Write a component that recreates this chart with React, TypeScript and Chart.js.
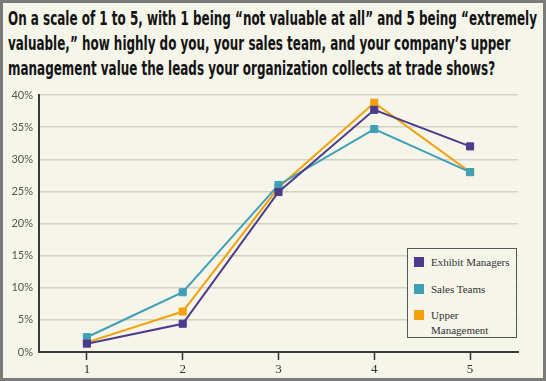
import React, { useEffect, useLayoutEffect, useRef } from "react";
import { Chart, registerables } from "chart.js";

Chart.register(...registerables);

const titleLines = [
  "On a scale of 1 to 5, with 1 being “not valuable at all” and 5 being “extremely",
  "valuable,” how highly do you, your sales team, and your company’s upper",
  "management value the leads your organization collects at trade shows?",
];
const categories = ["1", "2", "3", "4", "5"];
const exhibitManagers = [1.3, 4.4, 24.9, 37.7, 32.0];
const salesTeams = [2.3, 9.3, 26.0, 34.7, 28.0];
const upperManagement = [1.5, 6.3, 25.6, 38.8, 28.0];
const seriesNames = ["Exhibit Managers", "Sales Teams", "Upper Management"];
const seriesColors = ["#4a3b8c", "#3f9fb6", "#f4a10c"];
const yTicks = [0, 5, 10, 15, 20, 25, 30, 35, 40];

export default function App() {
  const canvasRef = useRef<HTMLCanvasElement | null>(null);
  const titleRef = useRef<HTMLDivElement | null>(null);

  useLayoutEffect(() => {
    const el = titleRef.current;
    if (!el) return;
    const first = el.children[0] as HTMLElement;
    const w = first.getBoundingClientRect().width;
    if (w > 0) el.style.transform = `scaleX(${529 / w})`;
  }, []);

  useEffect(() => {
    const canvas = canvasRef.current;
    if (!canvas) return;
    const values = [exhibitManagers, salesTeams, upperManagement];
    const chart = new Chart(canvas, {
      type: "line",
      data: {
        labels: categories,
        datasets: values.map((v, i) => ({
          label: seriesNames[i],
          data: v,
          borderColor: seriesColors[i],
          backgroundColor: seriesColors[i],
          borderWidth: 2,
          pointStyle: "rect",
          pointRadius: 5,
          pointBorderWidth: 1,
          pointBorderColor: seriesColors[i],
          tension: 0,
        })),
      },
      options: {
        responsive: false,
        animation: false,
        devicePixelRatio: 1,
        layout: { padding: { left: 0, right: 28, top: 95, bottom: 0 } },
        plugins: {
          legend: { display: false },
          title: { display: false },
          tooltip: { enabled: false },
        },
        scales: {
          x: {
            type: "category",
            offset: true,
            afterFit: (s: any) => {
              s.height = 29;
            },
            grid: {
              display: true,
              drawOnChartArea: false,
              drawTicks: true,
              offset: false,
              tickLength: 8,
              tickColor: "#333",
              tickWidth: 1.5,
            },
            border: { display: true, color: "#3a3a3a", width: 2 },
            ticks: {
              padding: 2,
              color: "#333",
              font: { family: "'Liberation Serif', serif", size: 13 },
            },
          },
          y: {
            min: 0,
            max: 40,
            afterFit: (s: any) => {
              s.width = 39;
            },
            afterBuildTicks: (s: any) => {
              s.ticks = yTicks.map((v) => ({ value: v }));
            },
            grid: {
              color: "#d2d2c6",
              lineWidth: 1.5,
              drawTicks: false,
            },
            border: { display: true, color: "#3a3a3a", width: 2 },
            ticks: {
              padding: 6,
              color: "#555",
              font: { family: "Lato, 'Noto Sans', sans-serif", size: 11 },
              callback: (v: any) => `${v}%`,
            },
          },
        },
      },
    });
    return () => chart.destroy();
  }, []);

  const legendRows = [
    { top: 7, label: ["Exhibit Managers"] },
    { top: 34, label: ["Sales Teams"] },
    { top: 60, label: ["Upper", "Management"] },
  ];

  return (
    <div
      style={{
        position: "fixed",
        left: 0,
        top: 0,
        width: 546,
        height: 381,
        boxSizing: "border-box",
        border: "3px solid #7a7a7a",
        background: "#f5f5ea",
        overflow: "hidden",
      }}
    >
      <div
        ref={titleRef}
        style={{
          position: "absolute",
          left: 5,
          top: 3,
          transformOrigin: "0 0",
          fontFamily: "'DejaVu Sans Condensed', 'Liberation Sans Narrow', Roboto, sans-serif",
          fontWeight: "bold",
          fontSize: 20,
          lineHeight: "25px",
          color: "#141414",
          whiteSpace: "nowrap",
        }}
      >
        {titleLines.map((t, i) => (
          <div key={i} style={{ display: "block", width: "max-content" }}>
            {t}
          </div>
        ))}
      </div>
      <canvas
        ref={canvasRef}
        width={546}
        height={381}
        style={{ position: "absolute", left: -3, top: -3, width: 546, height: 381 }}
      />
      <div
        style={{
          position: "absolute",
          left: 404,
          top: 245,
          width: 108,
          height: 88,
          border: "1px solid #555",
          background: "#f5f5ea",
          fontFamily: "'Liberation Serif', serif",
          fontSize: 11,
          color: "#333",
        }}
      >
        {legendRows.map((r, i) => (
          <div key={i} style={{ position: "absolute", left: 6, top: r.top }}>
            <div
              style={{
                position: "absolute",
                left: 0,
                top: 1,
                width: 10,
                height: 10,
                background: seriesColors[i],
              }}
            />
            <div style={{ position: "absolute", left: 17, top: -1, lineHeight: "15px", whiteSpace: "nowrap" }}>
              {r.label.map((l, j) => (
                <div key={j}>{l}</div>
              ))}
            </div>
          </div>
        ))}
      </div>
    </div>
  );
}
